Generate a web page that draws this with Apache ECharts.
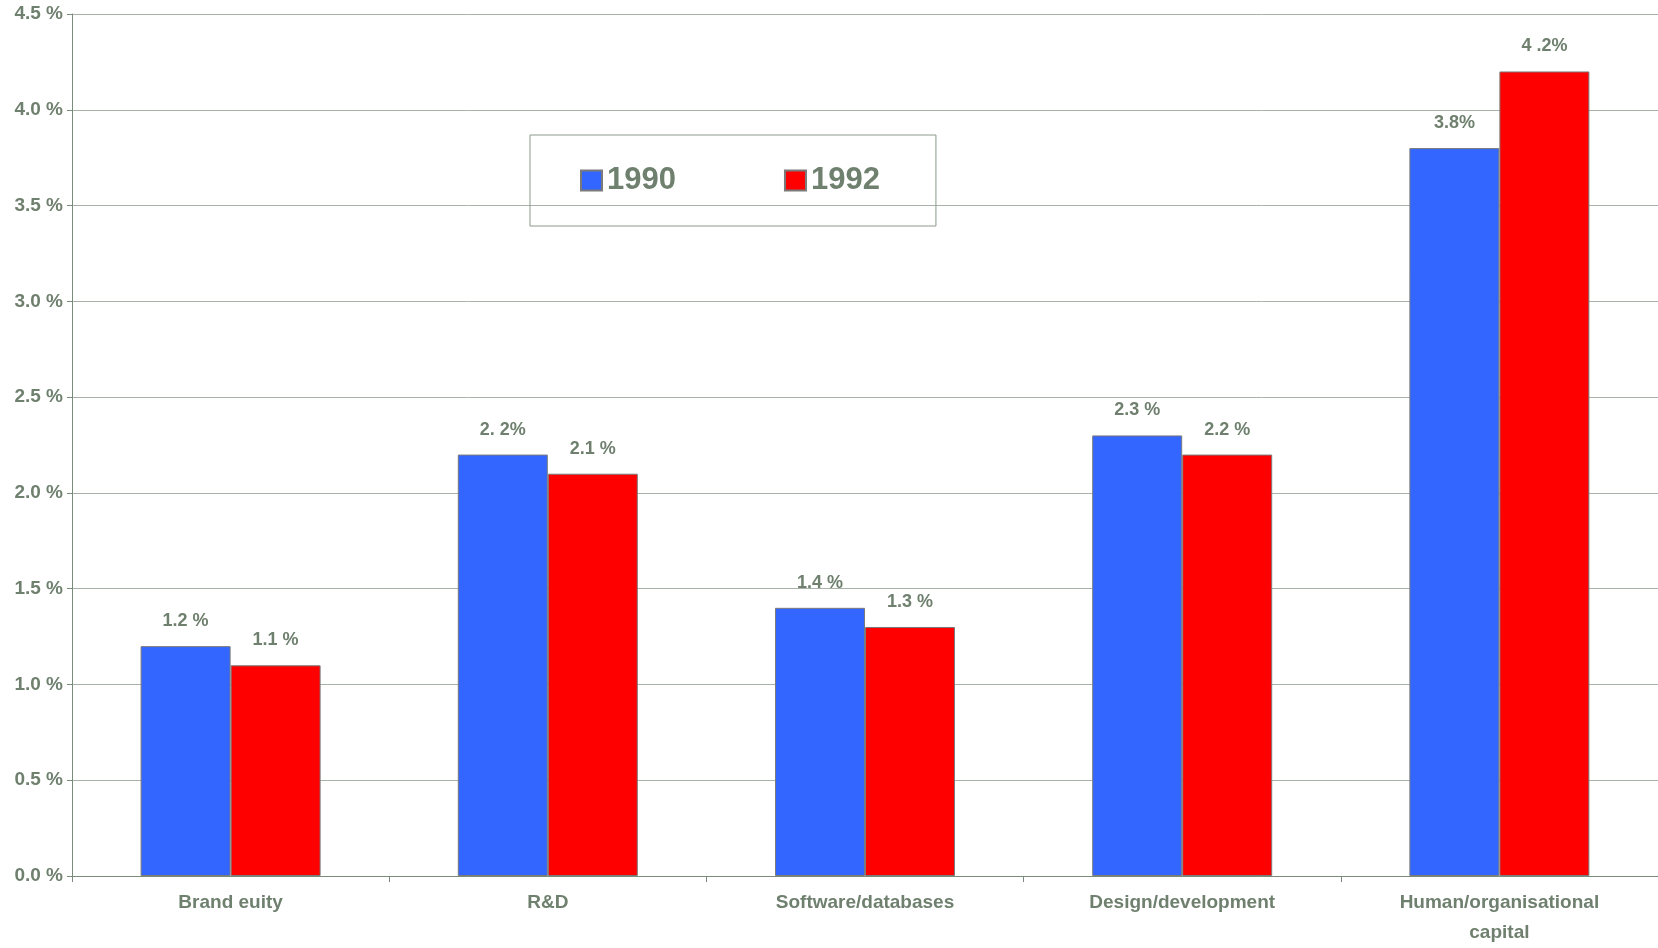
<!DOCTYPE html>
<html>
<head>
<meta charset="utf-8">
<script src="https://cdn.jsdelivr.net/npm/echarts@6/dist/echarts.min.js"></script>
<style>
html,body{margin:0;padding:0;background:#fff;}
#chart{width:1658px;height:948px;}
</style>
</head>
<body>
<div id="chart"></div>
<script>
const categories = ['Brand euity', 'R&D', 'Software/databases', 'Design/development', 'Human/organisational\ncapital'];
const values1990 = [1.2, 2.2, 1.4, 2.3, 3.8];
const values1992 = [1.1, 2.1, 1.3, 2.2, 4.2];
const labels1990 = ['1.2 %', '2. 2%', '1.4 %', '2.3 %', '3.8%'];
const labels1992 = ['1.1 %', '2.1 %', '1.3 %', '2.2 %', '4 .2%'];
const seriesNames = ['1990', '1992'];
const yTickLabels = ['0.0 %', '0.5 %', '1.0 %', '1.5 %', '2.0 %', '2.5 %', '3.0 %', '3.5 %', '4.0 %', '4.5 %'];

const textColor = '#6f806f';
const fontFamily = '"Liberation Sans", Arial, sans-serif';

const chart = echarts.init(document.getElementById('chart'));
function mkLabel(arr) {
  return {
    show: true,
    position: 'top',
    distance: 16,
    color: textColor,
    fontFamily: fontFamily,
    fontWeight: 'bold',
    fontSize: 18,
    formatter: p => arr[p.dataIndex]
  };
}
chart.setOption({
  animation: false,
  backgroundColor: '#fff',
  grid: { left: 72, right: 0, top: 14, bottom: 68, containLabel: false },
  legend: {
    left: 530,
    top: 135,
    orient: 'horizontal',
    padding: [30, 56, 30, 50],
    itemGap: 108,
    itemWidth: 21,
    itemHeight: 20,
    borderColor: '#8c9a8c',
    borderWidth: 1,
    icon: 'rect',
    textStyle: { color: textColor, fontFamily: fontFamily, fontWeight: 'bold', fontSize: 31, padding: [0, 0, 0, 0] },
    data: seriesNames
  },
  xAxis: {
    type: 'category',
    data: categories,
    axisLine: { show: true, lineStyle: { color: '#7b8b7b', width: 1 } },
    axisTick: { show: true, alignWithLabel: false, length: 6, lineStyle: { color: '#7b8b7b' } },
    axisLabel: {
      color: textColor, fontFamily: fontFamily, fontWeight: 'bold', fontSize: 19,
      lineHeight: 30, margin: 12, interval: 0
    }
  },
  yAxis: {
    type: 'value',
    min: 0, max: 4.5, interval: 0.5,
    axisLine: { show: true, lineStyle: { color: '#7b8b7b', width: 1 } },
    axisTick: { show: true, length: 5, lineStyle: { color: '#7b8b7b' } },
    axisLabel: {
      color: textColor, fontFamily: fontFamily, fontWeight: 'bold', fontSize: 19, margin: 9,
      formatter: (v) => yTickLabels[Math.round(v / 0.5)]
    },
    splitLine: { show: true, lineStyle: { color: '#a9b2a9', width: 1 } }
  },
  series: [
    {
      name: seriesNames[0], type: 'bar', data: values1990, barWidth: 90, barGap: '0%',
      itemStyle: { color: '#3366ff', borderColor: '#7a7a7a', borderWidth: 1 },
      label: mkLabel(labels1990)
    },
    {
      name: seriesNames[1], type: 'bar', data: values1992, barWidth: 90, barGap: '0%',
      itemStyle: { color: '#ff0000', borderColor: '#7a7a7a', borderWidth: 1 },
      label: mkLabel(labels1992)
    }
  ]
});
</script>
</body>
</html>
